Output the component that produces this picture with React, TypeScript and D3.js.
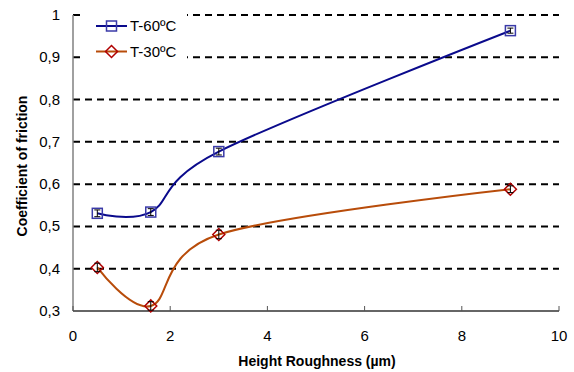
import * as d3 from "d3";
import { useEffect, useRef } from "react";

// roughness (µm) and friction coefficient
const roughness = [0.5, 1.6, 3, 9];
const frictionT60 = [0.531, 0.534, 0.677, 0.963];
const frictionT30 = [0.403, 0.312, 0.481, 0.588];
const errT60 = [0.008, 0.008, 0.008, 0.006];
const errT30 = [0.01, 0.01, 0.01, 0.008];
const xTicks = [0, 2, 4, 6, 8, 10];
const yTicks = [0.3, 0.4, 0.5, 0.6, 0.7, 0.8, 0.9, 1];
const seriesNames = ["T-60ºC", "T-30ºC"];

const W = 574;
const H = 372;
const margin = { top: 15, right: 15, bottom: 61, left: 73 };
const font = "'Liberation Sans', Arial, sans-serif";

const App = () => {
  const ref = useRef<SVGSVGElement | null>(null);

  useEffect(() => {
    const svg = d3.select(ref.current);
    svg.selectAll("*").remove();

    const x = d3.scaleLinear().domain([0, 10]).range([margin.left, W - margin.right]);
    const y = d3.scaleLinear().domain([0.3, 1]).range([H - margin.bottom, margin.top]);

    // dashed gridlines
    svg.append("g")
      .selectAll("line")
      .data(yTicks.filter(d => d > 0.3))
      .enter()
      .append("line")
      .attr("x1", x(0))
      .attr("x2", x(10))
      .attr("y1", d => y(d))
      .attr("y2", d => y(d))
      .attr("stroke", "#000")
      .attr("stroke-width", 2)
      .attr("stroke-dasharray", "7,5");

    // y axis line
    svg.append("line")
      .attr("x1", x(0)).attr("x2", x(0))
      .attr("y1", y(1)).attr("y2", y(0.3))
      .attr("stroke", "#808080").attr("stroke-width", 1.5);

    // x axis
    const xAxis = svg.append("g").attr("transform", `translate(0, ${y(0.3)})`);
    xAxis.append("line")
      .attr("x1", x(0)).attr("x2", x(10))
      .attr("stroke", "#333").attr("stroke-width", 1.5);
    xAxis.selectAll(".tick")
      .data(xTicks)
      .enter()
      .append("line")
      .attr("x1", d => x(d)).attr("x2", d => x(d))
      .attr("y1", 0).attr("y2", -5)
      .attr("stroke", "#555").attr("stroke-width", 1);
    xAxis.selectAll("text")
      .data(xTicks)
      .enter()
      .append("text")
      .attr("x", d => x(d))
      .attr("y", 30)
      .attr("text-anchor", "middle")
      .style("font-family", font)
      .style("font-size", "15px")
      .text(d => String(d));

    // y tick labels
    svg.append("g")
      .selectAll("text")
      .data(yTicks)
      .enter()
      .append("text")
      .attr("x", x(0) - 13)
      .attr("y", d => y(d) + 5)
      .attr("text-anchor", "end")
      .style("font-family", font)
      .style("font-size", "15px")
      .text(d => (d === 1 ? "1" : d3.format(".1f")(d).replace(".", ",")));

    // axis titles
    svg.append("text")
      .attr("x", x(5) + 1)
      .attr("y", 366)
      .attr("text-anchor", "middle")
      .style("font-family", font)
      .style("font-size", "14px")
      .style("font-weight", "bold")
      .text("Height Roughness (µm)");
    svg.append("text")
      .attr("transform", `translate(27, ${(y(1) + y(0.3)) / 2 + 3}) rotate(-90)`)
      .attr("text-anchor", "middle")
      .style("font-family", font)
      .style("font-size", "14px")
      .style("font-weight", "bold")
      .text("Coefficient of friction");

    const line = d3.line<number>()
      .x((d, i) => x(roughness[i]))
      .y(d => y(d))
      .curve(d3.curveCardinal.tension(0));

    const series = [
      { values: frictionT60, err: errT60, color: "#0a0a8c", marker: "#3a3aa8", shape: "square" },
      { values: frictionT30, err: errT30, color: "#b84c0a", marker: "#b00000", shape: "diamond" },
    ];

    const drawMarker = (g: any, cx: number, cy: number, s: any) => {
      if (s.shape === "square") {
        g.append("rect")
          .attr("x", cx - 5).attr("y", cy - 5)
          .attr("width", 10).attr("height", 10)
          .attr("fill", "none").attr("stroke", s.marker).attr("stroke-width", 1.5);
      } else {
        g.append("path")
          .attr("d", `M${cx - 6},${cy} L${cx},${cy - 6} L${cx + 6},${cy} L${cx},${cy + 6} Z`)
          .attr("fill", "none").attr("stroke", s.marker).attr("stroke-width", 1.5);
      }
    };

    series.forEach(s => {
      svg.append("path")
        .datum(s.values)
        .attr("d", line)
        .attr("fill", "none")
        .attr("stroke", s.color)
        .attr("stroke-width", 2);

      const g = svg.append("g");
      s.values.forEach((v, i) => {
        const cx = x(roughness[i]);
        drawMarker(g, cx, y(v), s);
        // error bar
        const y1 = y(v + s.err[i]);
        const y2 = y(v - s.err[i]);
        g.append("line").attr("x1", cx).attr("x2", cx).attr("y1", y1).attr("y2", y2)
          .attr("stroke", "#000").attr("stroke-width", 1);
        g.append("line").attr("x1", cx - 3).attr("x2", cx + 3).attr("y1", y1).attr("y2", y1)
          .attr("stroke", "#000").attr("stroke-width", 1);
        g.append("line").attr("x1", cx - 3).attr("x2", cx + 3).attr("y1", y2).attr("y2", y2)
          .attr("stroke", "#000").attr("stroke-width", 1);
      });
    });

    // legend
    const leg = svg.append("g");
    leg.append("rect")
      .attr("x", 85).attr("y", 8).attr("width", 102).attr("height", 56)
      .attr("fill", "#fff");
    series.forEach((s, i) => {
      const ly = 26 + i * 25.5;
      leg.append("line")
        .attr("x1", 96).attr("x2", 127).attr("y1", ly).attr("y2", ly)
        .attr("stroke", s.color).attr("stroke-width", 2);
      drawMarker(leg, 111.5, ly, s);
      leg.append("text")
        .attr("x", 130).attr("y", ly + 5)
        .style("font-family", font)
        .style("font-size", "15px")
        .text(seriesNames[i]);
    });
  }, []);

  return (
    <svg ref={ref} width={W} height={H}
      style={{ position: "absolute", left: 0, top: 0, background: "#fff" }} />
  );
};

export default App;
